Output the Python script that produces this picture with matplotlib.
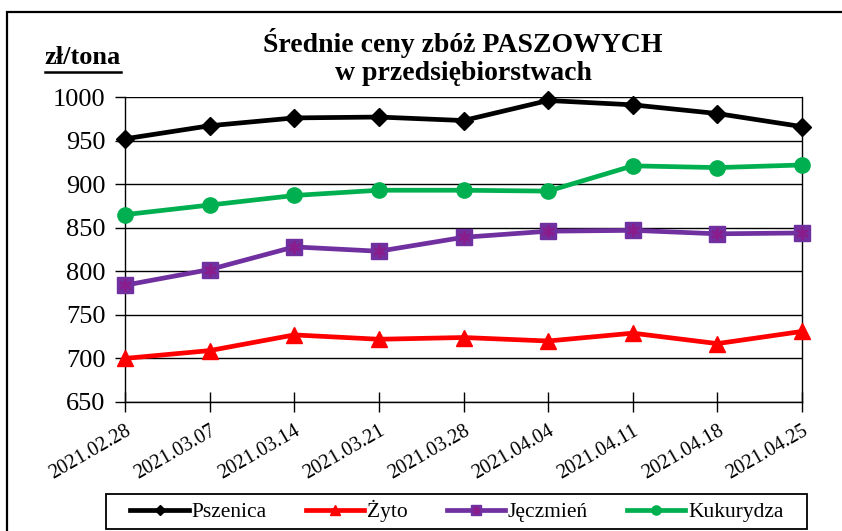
import matplotlib
matplotlib.use('Agg')
import matplotlib.pyplot as plt
from matplotlib.patches import Rectangle
from matplotlib.lines import Line2D

plt.rcParams['font.family'] = ['Liberation Serif', 'DejaVu Serif']

# dane z wykresu (zł/tona)
dates = ['2021.02.28', '2021.03.07', '2021.03.14', '2021.03.21', '2021.03.28',
         '2021.04.04', '2021.04.11', '2021.04.18', '2021.04.25']
pszenica = [952, 967, 976, 977, 973, 996, 991, 981, 966]
zyto = [700, 709, 727, 722, 724, 720, 729, 717, 731]
jeczmien = [784, 802, 828, 823, 839, 846, 847, 843, 844]
kukurydza = [865, 876, 887, 893, 893, 892, 921, 919, 922]

W, H = 842, 531
fig = plt.figure(figsize=(W / 100, H / 100), dpi=100)
ax = fig.add_axes([125 / W, 1 - 402 / H, (802 - 125) / W, (402 - 97) / H])

x = list(range(len(dates)))
lw = 3.4
h1, = ax.plot(x, pszenica, color='black', lw=lw, marker='D', ms=9, clip_on=False, zorder=5)
h2, = ax.plot(x, zyto, color='#ff0000', lw=lw, marker='^', ms=11, clip_on=False, zorder=5)
h3, = ax.plot(x, jeczmien, color='#7030a0', lw=lw, marker='s', ms=11, clip_on=False, zorder=5)
h3b, = ax.plot(x, jeczmien, ls='none', marker=(6, 2, 0), ms=9, mew=1.6,
               color='#8b1c8b', clip_on=False, zorder=6)
h4, = ax.plot(x, kukurydza, color='#00b050', lw=lw, marker='o', ms=11, clip_on=False, zorder=5)

ax.set_xlim(0, 8)
ax.set_ylim(650, 1000)
ax.set_yticks(range(650, 1001, 50))
ax.set_xticks(x)
ax.set_xticklabels(dates, rotation=30, ha='right', rotation_mode='anchor', fontsize=14.5)
ax.tick_params(axis='y', labelsize=19, direction='out', length=7, width=1, pad=7)
ax.tick_params(axis='x', direction='inout', length=14, width=1, pad=7)
ax.grid(axis='y', color='black', lw=1)
ax.set_axisbelow(True)
ax.spines['top'].set_visible(False)
for s in ['left', 'right', 'bottom']:
    ax.spines[s].set_linewidth(1)

# tytuł i jednostka
fig.text(463 / W, 1 - 43 / H, 'Średnie ceny zbóż PASZOWYCH', ha='center', va='center',
         fontsize=20, fontweight='bold')
fig.text(463 / W, 1 - 73 / H, 'w przedsiębiorstwach', ha='center', va='center',
         fontsize=20, fontweight='bold')
unit = fig.text(83 / W, 1 - 58 / H, 'zł/tona', ha='center', va='center',
                fontsize=19, fontweight='bold')
fig.canvas.draw()
bb = unit.get_window_extent().transformed(fig.transFigure.inverted())
fig.add_artist(Line2D([bb.x0, bb.x1], [bb.y0 - 0.004, bb.y0 - 0.004], color='black', lw=1.8,
                      transform=fig.transFigure))

# legenda
fig.legend([h1, h2, (h3, h3b), h4], ['Pszenica', 'Żyto', 'Jęczmień', 'Kukurydza'],
           loc='center', bbox_to_anchor=(457 / W, 1 - 511 / H), ncol=4, frameon=False,
           fontsize=15.5, handlelength=2.7, handletextpad=0.15, columnspacing=1.8,
           markerscale=0.6)
fig.add_artist(Rectangle((106 / W, 1 - 529 / H), (807 - 106) / W, 35 / H, fill=False,
                         edgecolor='black', lw=1.3, transform=fig.transFigure))

# ramka
fig.add_artist(Rectangle((7 / W, -0.1), 1.2, 1.1 - 12 / H, fill=False, edgecolor='black',
                         lw=1.6, transform=fig.transFigure))

fig.savefig('out.png', dpi=100)
